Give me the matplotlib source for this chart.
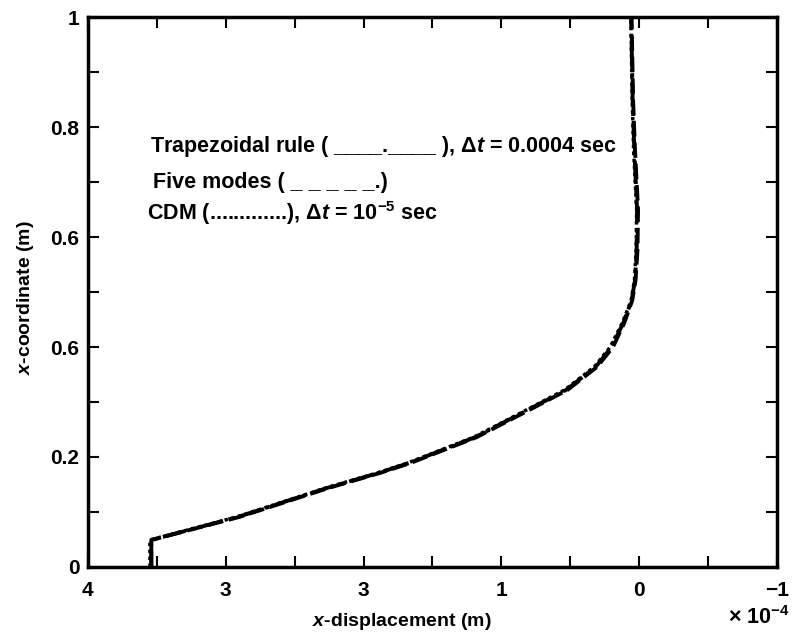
import matplotlib.pyplot as plt
from matplotlib.ticker import MultipleLocator

# x-coordinate along the bar (m)
y_coord = [0.0, 0.049, 0.091, 0.144, 0.171, 0.189, 0.236, 0.28, 0.322, 0.364, 0.40, 0.444, 0.485, 0.522, 0.576, 0.65, 0.758, 0.849, 1.0]

# x-displacement, in units of 1e-4 m
trap_disp = [3.54, 3.54, 2.91, 2.26, 1.89, 1.67, 1.19, 0.85, 0.53, 0.315, 0.20, 0.115, 0.054, 0.030, 0.018, 0.015, 0.035, 0.047, 0.058]
modes_disp = [3.54, 3.54, 2.90, 2.25, 1.88, 1.66, 1.18, 0.84, 0.52, 0.305, 0.19, 0.108, 0.050, 0.026, 0.012, 0.008, 0.030, 0.044, 0.055]
cdm_disp = [3.55, 3.55, 2.92, 2.27, 1.90, 1.68, 1.20, 0.86, 0.54, 0.325, 0.21, 0.122, 0.058, 0.034, 0.022, 0.018, 0.040, 0.050, 0.060]

x_ticks = [4, 3, 2, 1, 0, -1]
x_ticklabels = ["4", "3", "3", "1", "0", "\u22121"]
y_ticks = [0, 0.2, 0.4, 0.6, 0.8, 1]
y_ticklabels = ["0", "0.2", "0.6", "0.6", "0.8", "1"]

plt.rcParams["font.family"] = ["Liberation Sans", "DejaVu Sans"]
plt.rcParams["font.weight"] = "bold"
plt.rcParams["axes.labelweight"] = "bold"
plt.rcParams["mathtext.fontset"] = "custom"
plt.rcParams["mathtext.rm"] = "Liberation Sans:bold"
plt.rcParams["mathtext.it"] = "Liberation Sans:italic:bold"
plt.rcParams["mathtext.bf"] = "Liberation Sans:bold"

fig = plt.figure(figsize=(7.92, 6.37), dpi=100)
ax = fig.add_axes([0.111, 0.110, 0.870, 0.863])

ax.plot(trap_disp, y_coord, color="black", lw=2.8, linestyle=(0, (6, 1.5, 1, 1.5)))
ax.plot(modes_disp, y_coord, color="black", lw=2.8, linestyle=(0, (4, 1.5)))
ax.plot(cdm_disp, y_coord, color="black", lw=2.5, linestyle=(0, (1, 1)))

ax.set_xlim(4, -1)
ax.set_ylim(0, 1)
ax.set_xticks(x_ticks)
ax.set_xticklabels(x_ticklabels)
ax.set_yticks(y_ticks)
ax.set_yticklabels(y_ticklabels)
ax.xaxis.set_minor_locator(MultipleLocator(0.5))
ax.yaxis.set_minor_locator(MultipleLocator(0.1))
ax.tick_params(which="both", direction="in", top=True, right=True, length=8, width=1.5,
               labelsize=15)
ax.tick_params(axis="x", pad=10)
ax.tick_params(axis="y", pad=6)
for s in ax.spines.values():
    s.set_linewidth(2.5)

ax.set_xlabel("$x$-displacement (m)", fontsize=14, va="center")
ax.xaxis.set_label_coords(0.455, -0.099)
ax.set_ylabel("$x$-coordinate (m)", fontsize=14, va="center")
ax.yaxis.set_label_coords(-0.091, 0.49)

fs = 15.5
ax.text(3.55, 0.765, "Trapezoidal rule ( ____.____ ), \u0394$t$ = 0.0004 sec", fontsize=fs, va="center")
ax.text(3.53, 0.70, "Five modes ( _ _ _ _ _.)", fontsize=fs, va="center")
ax.text(3.57, 0.643, "CDM (.............), \u0394$t$ = 10$^{\u22125}$ sec", fontsize=fs, va="center")

fig.text(0.997, 0.012, "\u00d7 10$^{\u22124}$", fontsize=15.5, ha="right", va="bottom")

fig.savefig("out.png", dpi=100)
